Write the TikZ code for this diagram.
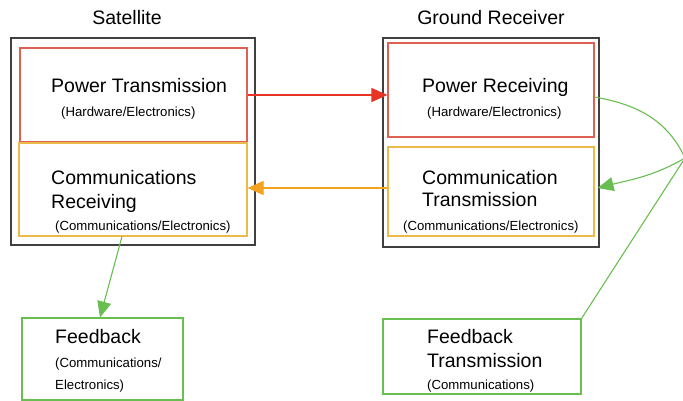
\documentclass[tikz,border=0pt]{standalone}
\usepackage{fontspec}
\setmainfont{Liberation Sans}
\usepackage{tikz}
\usetikzlibrary{arrows.meta}

\definecolor{boxred}{RGB}{222,98,84}
\definecolor{boxyellow}{RGB}{236,186,72}
\definecolor{arrred}{RGB}{232,52,36}
\definecolor{arrorange}{RGB}{244,163,32}
\definecolor{arrgreen}{RGB}{104,190,80}

\tikzset{
  outerbox/.style={draw=black!75,line width=1.4pt,inner sep=0pt},
  redbox/.style={draw=boxred,line width=1.1pt,inner sep=0pt},
  yellowbox/.style={draw=boxyellow,line width=1.1pt,inner sep=0pt},
  greenbox/.style={draw=arrgreen,line width=1.1pt,inner sep=0pt},
  bigtxt/.style={anchor=base west,inner sep=0pt,font=\fontsize{19.5}{23}\selectfont},
  smalltxt/.style={anchor=base west,inner sep=0pt,font=\fontsize{13.2}{16}\selectfont},
  flowtip/.style={-{Triangle[length=16pt,width=14pt]}}
}

\begin{document}
\begin{tikzpicture}[x=1pt,y=-1pt]
		\useasboundingbox (0,0) rectangle (683,401);
		% titles
		\node (sattitle) at (127,25) [anchor=base,inner sep=0pt,font=\fontsize{19.5}{23}\selectfont] {Satellite};
		\node (gndtitle) at (491,25) [anchor=base,inner sep=0pt,font=\fontsize{19.5}{23}\selectfont] {Ground Receiver};
		% boxes
		\node (satbox) at (133,141.5) [outerbox,minimum width=244,minimum height=207] {};
		\node (satpow) at (133.5,95) [redbox,minimum width=227,minimum height=94] {};
		\node (satcom) at (133,189.5) [yellowbox,minimum width=228,minimum height=93] {};
		\node (gndbox) at (491,142.5) [outerbox,minimum width=216,minimum height=209] {};
		\node (gndpow) at (491,90) [redbox,minimum width=206,minimum height=94] {};
		\node (gndcom) at (491,191.5) [yellowbox,minimum width=206,minimum height=89] {};
		\node (feed) at (102.5,359) [greenbox,minimum width=161,minimum height=82] {};
		\node (feedtx) at (482,356.5) [greenbox,minimum width=198,minimum height=75] {};
		% texts
		\node (satpowa) at (51,93) [bigtxt] {Power Transmission};
		\node (satpowb) at (61,116.5) [smalltxt] {(Hardware/Electronics)};
		\node (satcoma) at (51,185) [bigtxt] {Communications};
		\node (satcomb) at (51,208.5) [bigtxt] {Receiving};
		\node (satcomc) at (55,230.5) [smalltxt] {(Communications/Electronics)};
		\node (gndpowa) at (422,93) [bigtxt] {Power Receiving};
		\node (gndpowb) at (427,116.5) [smalltxt] {(Hardware/Electronics)};
		\node (gndcoma) at (422,185) [bigtxt] {Communication};
		\node (gndcomb) at (422,206.5) [bigtxt] {Transmission};
		\node (gndcomc) at (403,230.5) [smalltxt] {(Communications/Electronics)};
		\node (feeda) at (55,343) [bigtxt] {Feedback};
		\node (feedb) at (55,367.5) [smalltxt] {(Communications/};
		\node (feedc) at (55,389.5) [smalltxt] {Electronics)};
		\node (feedtxa) at (427,343) [bigtxt] {Feedback};
		\node (feedtxb) at (427,367) [bigtxt] {Transmission};
		\node (feedtxc) at (427,389.5) [smalltxt] {(Communications)};
		% connectors
		\coordinate (hub) at (685,158);
		\draw [flowtip,arrred,line width=1.1pt] (satpow.east) -- (satpow.east -| gndpow.west);
		\draw [flowtip,arrorange,line width=1.1pt] ([yshift=1.5pt]satcom.east -| gndcom.west) -- ([yshift=1.5pt]satcom.east);
		\draw [flowtip,arrgreen,line width=1.1pt] ([xshift=-11pt]satcom.south) -- ([xshift=-2.5pt]feed.north);
		\draw [arrgreen,line width=1.1pt] ([yshift=-7pt]gndpow.east) to[out=-10,in=115] (hub);
		\draw [flowtip,arrgreen,line width=1.1pt] (hub) to[out=-150,in=14] ([yshift=3.5pt,xshift=3pt]gndcom.east);
		\draw [arrgreen,line width=1.1pt] (feedtx.north east) -- (hub);
    \end{tikzpicture}
\end{document}
